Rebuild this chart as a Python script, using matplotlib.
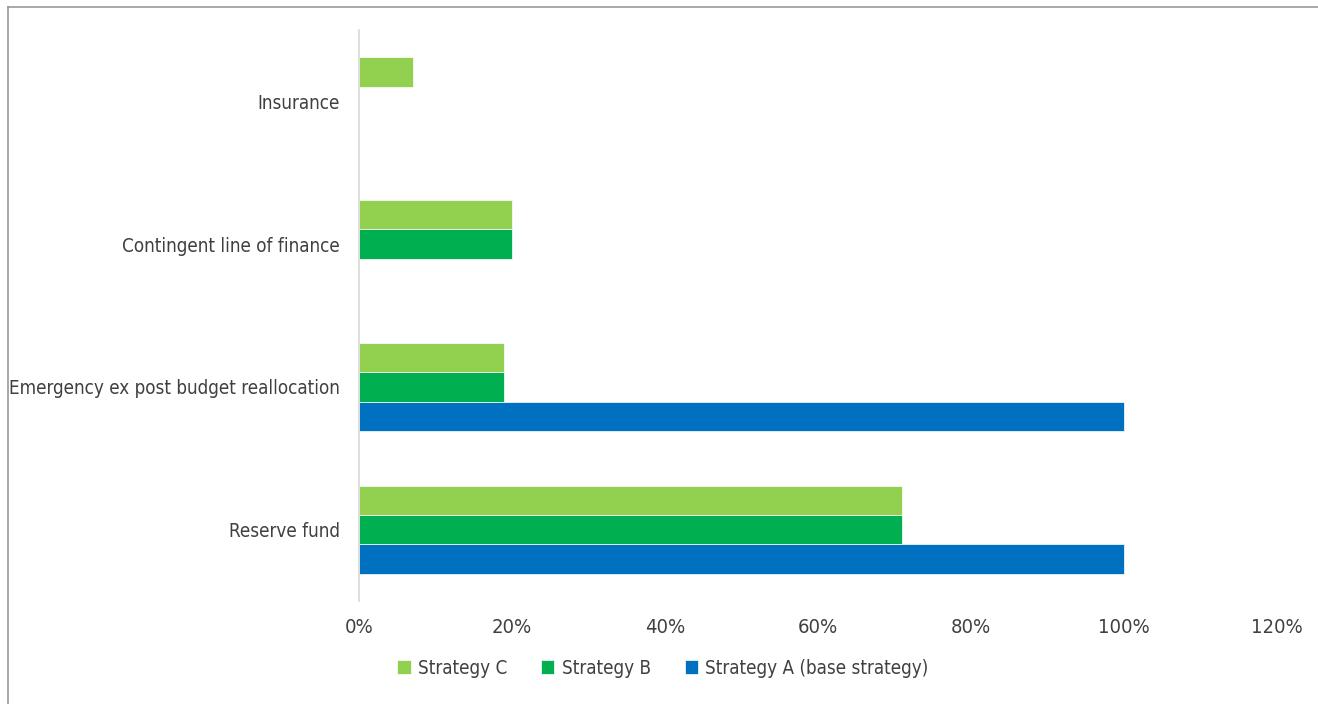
import numpy as np
import matplotlib
matplotlib.use("Agg")
import matplotlib.pyplot as plt
from matplotlib.lines import Line2D
from matplotlib.ticker import PercentFormatter

categories = ["Reserve fund", "Emergency ex post budget reallocation",
              "Contingent line of finance", "Insurance"]
strategy_a = [100, 100, 0, 0]
strategy_b = [71, 19, 20, 0]
strategy_c = [71, 19, 20, 7]
xticks = [0, 20, 40, 60, 80, 100, 120]

plt.rcParams['font.family'] = ['DejaVu Sans']
plt.rcParams['font.stretch'] = 'condensed'
text_col = '#404040'

fig = plt.figure(figsize=(13.18, 7.04), dpi=100)
ax = fig.add_axes([359 / 1318, 1 - 601 / 704, (1277 - 359) / 1318, 571 / 704])

y = np.arange(len(categories))
h = 0.205
series = [(strategy_a, '#0070C0', 'Strategy A (base strategy)', -h),
          (strategy_b, '#00B050', 'Strategy B', 0),
          (strategy_c, '#92D050', 'Strategy C', h)]
for vals, col, lab, off in series:
    ax.barh(y + off, vals, height=h, color=col, label=lab,
            edgecolor='white', linewidth=0.5)

ax.set_xlim(0, 120)
ax.set_ylim(-0.5, 3.5)
ax.set_xticks(xticks)
ax.xaxis.set_major_formatter(PercentFormatter(decimals=0))
ax.set_yticks(y)
ax.set_yticklabels(categories)
ax.tick_params(axis='y', length=0, labelsize=13.5, colors=text_col, pad=14)
ax.tick_params(axis='x', length=0, labelsize=14.5, colors=text_col, pad=12)
for s in ['top', 'right', 'bottom']:
    ax.spines[s].set_visible(False)
ax.spines['left'].set_color('#d9d9d9')
ax.spines['left'].set_linewidth(1.2)

handles, labels = ax.get_legend_handles_labels()
fig.legend(handles[::-1], labels[::-1], loc='center', bbox_to_anchor=(663 / 1318, 1 - 668 / 704),
           ncol=3, frameon=False, fontsize=13.5, labelcolor=text_col,
           handlelength=0.7, handleheight=0.7, handletextpad=0.4, columnspacing=1.8)

# thin frame along the top and left edges
fig.add_artist(Line2D([8 / 1318, 8 / 1318], [0, 1 - 7 / 704], color='#999999', lw=1.2))
fig.add_artist(Line2D([8 / 1318, 1], [1 - 7 / 704, 1 - 7 / 704], color='#999999', lw=1.2))

fig.savefig('out.png', dpi=100, facecolor='white')
